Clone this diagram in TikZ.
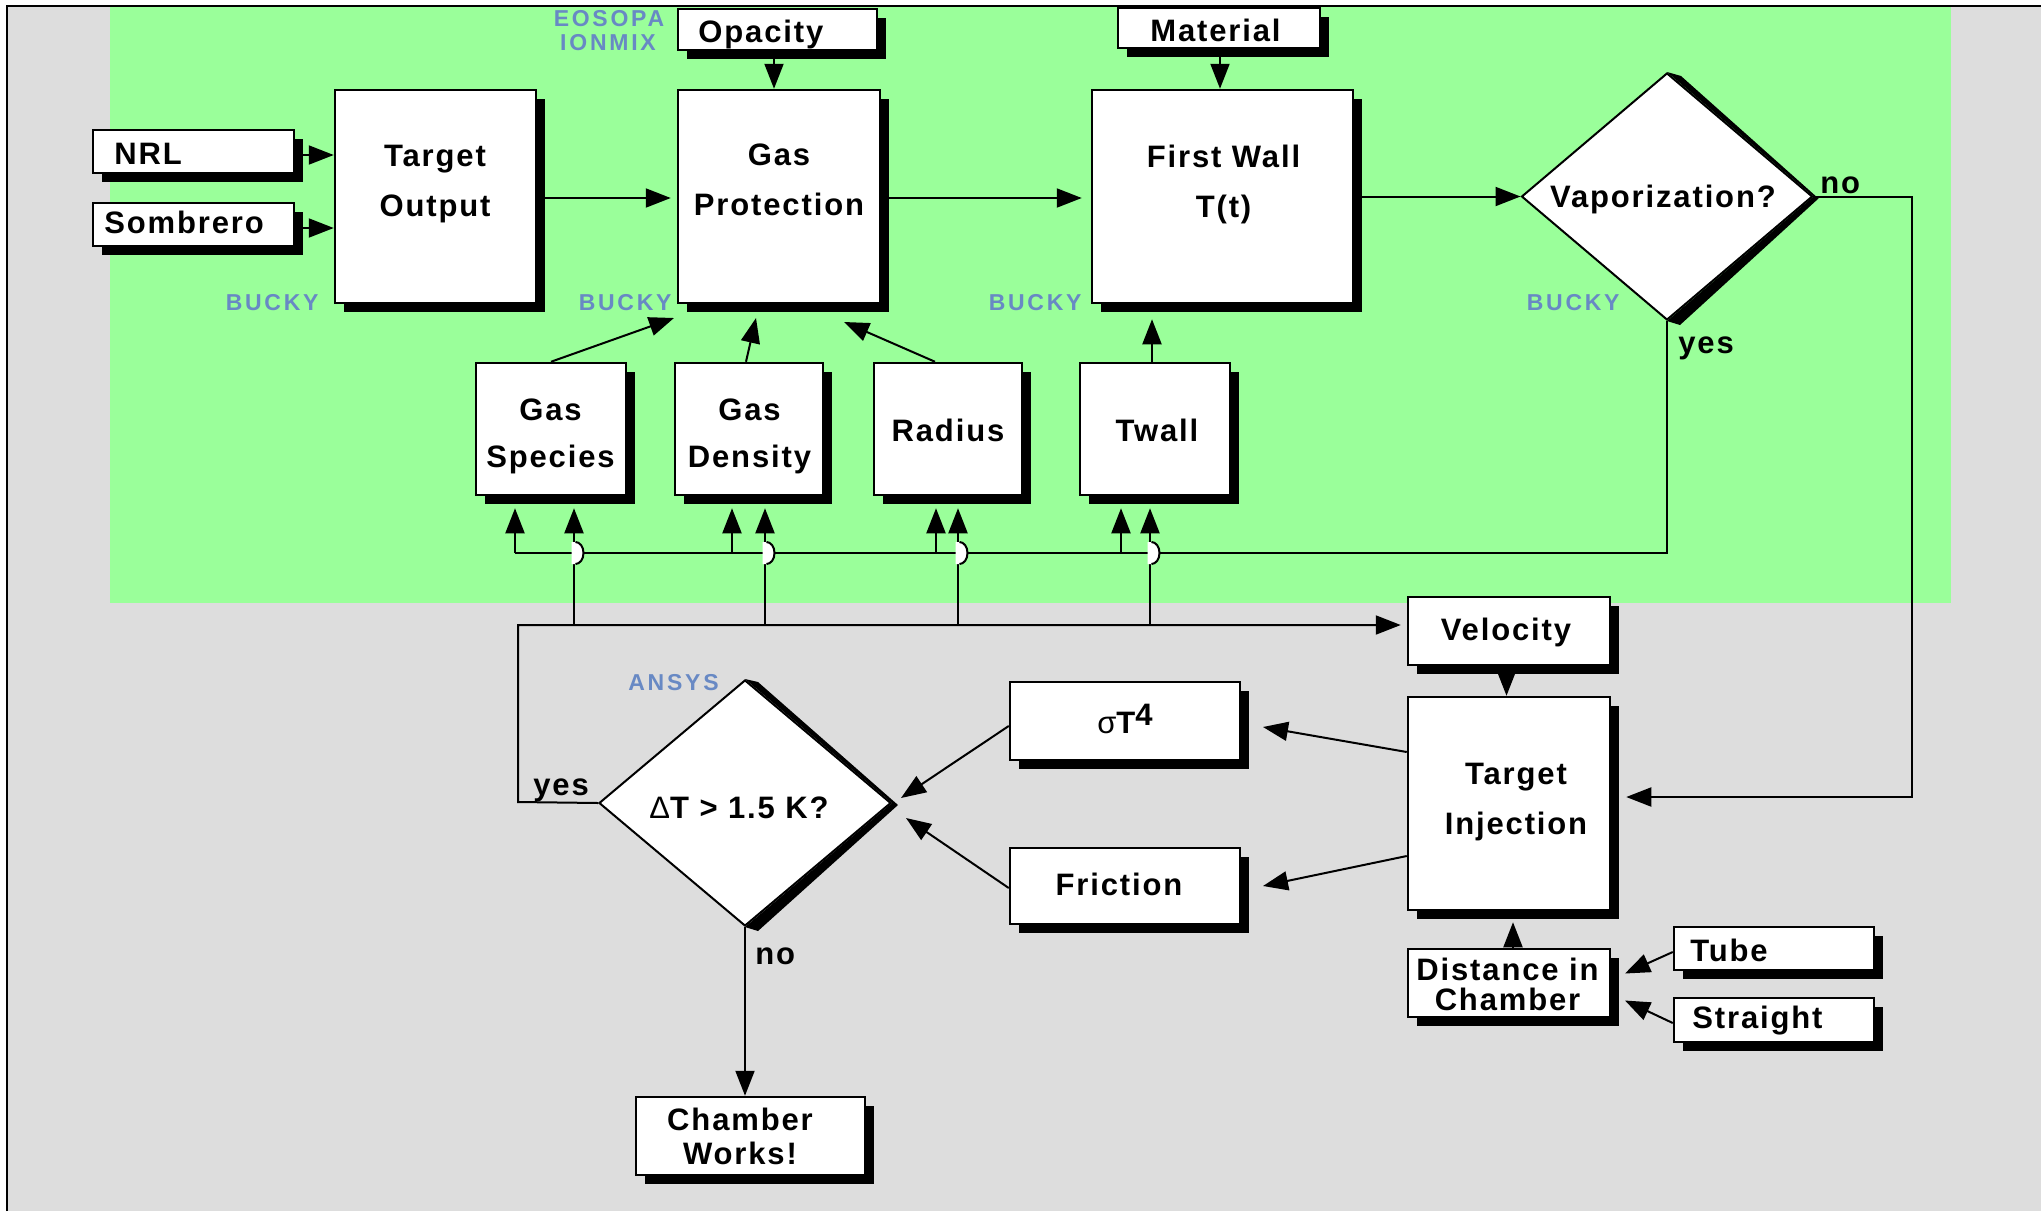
\documentclass[tikz,border=0pt]{standalone}
\usepackage{fontspec}
\setmainfont{Liberation Sans}
\newfontfamily\labfont[LetterSpace=6]{Liberation Sans}
\newfontfamily\toolfont[LetterSpace=12]{Liberation Sans}
\usetikzlibrary{arrows.meta,shapes.geometric,shadows,calc}
\definecolor{bggray}{RGB}{221,221,221}
\definecolor{bggreen}{RGB}{154,255,154}
\definecolor{toolblue}{RGB}{104,137,196}
\tikzset{
  box/.style={draw=black, line width=1.25pt, fill=white, inner sep=0pt,
    drop shadow={shadow xshift=4.5pt, shadow yshift=-4.5pt, fill=black, opacity=1}},
  dia/.style={diamond, draw=black, line width=1pt, fill=white, inner sep=0pt},
  lbl/.style={inner sep=0pt, align=center, font=\labfont\bfseries\fontsize{15.5}{25}\selectfont},
  tool/.style={inner sep=0pt, text=toolblue, font=\toolfont\bfseries\fontsize{11.5}{12.5}\selectfont},
  con/.style={line width=1pt},
  arr/.style={con, -{Triangle[length=12.5pt, width=9.5pt]}},
}
\begin{document}
\begin{tikzpicture}[x=0.5pt,y=-0.5pt]
\useasboundingbox (0,0) rectangle (2041,1211);
\fill[white] (0,0) rectangle (2041,1211);
\fill[bggray] (7,6) rectangle (2041,1211);
\fill[bggreen] (110,7) rectangle (1951,603);
\draw[line width=1pt] (7,1211) -- (7,6) -- (2041,6);

% ---------- boxes ----------
\node[box, minimum width=100.5pt, minimum height=21.5pt] (nrl) at (193.5,151.5) {};
\node[box, minimum width=100.5pt, minimum height=21.5pt] (somb) at (193.5,224.5) {};
\node[box, minimum width=100.5pt, minimum height=106.5pt] (to) at (435.5,196.5) {};
\node[box, minimum width=99.5pt, minimum height=20.5pt] (opac) at (777.5,29.5) {};
\node[box, minimum width=101pt, minimum height=106.5pt] (gp) at (779,196.5) {};
\node[box, minimum width=101pt, minimum height=20pt] (mat) at (1219,28) {};
\node[box, minimum width=130.5pt, minimum height=106.5pt] (fw) at (1222.5,196.5) {};
\node[box, minimum width=75pt, minimum height=66pt] (gs) at (551,429) {};
\node[box, minimum width=74pt, minimum height=66pt] (gd) at (749,429) {};
\node[box, minimum width=74pt, minimum height=66pt] (rad) at (948,429) {};
\node[box, minimum width=75pt, minimum height=66pt] (tw) at (1155,429) {};
\node[box, minimum width=101pt, minimum height=34pt] (vel) at (1509,631) {};
\node[box, minimum width=101pt, minimum height=106.5pt] (ti) at (1509,803.5) {};
\node[box, minimum width=101pt, minimum height=34pt] (dic) at (1509,983) {};
\node[box, minimum width=100pt, minimum height=21.5pt] (tube) at (1774,948.5) {};
\node[box, minimum width=100pt, minimum height=22pt] (str) at (1774,1020) {};
\node[box, minimum width=115pt, minimum height=39pt] (sig) at (1125,721) {};
\node[box, minimum width=115pt, minimum height=38pt] (fri) at (1125,886) {};
\node[box, minimum width=114.5pt, minimum height=39pt] (cw) at (750.5,1136) {};

% ---------- diamonds ----------
\node[dia, minimum width=145.5pt, minimum height=123.5pt] (vap) at (1667,196.5) {};
\fill ($(vap.north)+(14,4)$) -- ($(vap.east)+(5,2)$) -- ($(vap.south)+(13,4)$) -- (vap.south) -- (vap.east) -- (vap.north) -- cycle;
\node[dia, minimum width=146pt, minimum height=123pt] (dt) at (745,803) {};
\fill ($(dt.north)+(13,3)$) -- ($(dt.east)+(6,2)$) -- ($(dt.south)+(13,4)$) -- (dt.south) -- (dt.east) -- (dt.north) -- cycle;

% ---------- free-end coordinates ----------
\coordinate (gpin1) at (674,318);
\coordinate (gpin2) at (756,318);
\coordinate (gpin3) at (844,322);
\coordinate (sigin) at (1263,727);
\coordinate (friin) at (1263,886);
\coordinate (dtin1) at (901,798);
\coordinate (dtin2) at (906,818);
\coordinate (dicin1) at (1625,973.5);
\coordinate (dicin2) at (1625,1000.5);
\coordinate (busR) at (1667,553);
\coordinate (busL) at (515,553);
\coordinate (lowL) at (518,625);
\coordinate (yesC) at (518,802);

% ---------- connectors (top) ----------
\draw[arr] (nrl.east |- 0,155) -- (to.west |- 0,155);
\draw[arr] (somb.east |- 0,228) -- (to.west |- 0,228);
\draw[arr, shorten >=3pt] (to.east |- 0,198) -- (gp.west |- 0,198);
\draw[arr] (opac.south -| 774,0) -- (gp.north -| 774,0);
\draw[arr, shorten >=4.5pt] (gp.east |- 0,198) -- (fw.west |- 0,198);
\draw[arr] (mat.south -| 1220,0) -- (fw.north -| 1220,0);
\draw[arr] (fw.east |- vap.west) -- (vap.west);
\draw[arr, shorten >=7.5pt] (vap.east) -- ++(98,0) |- (ti.east |- 0,797);

% inputs to gas protection / first wall
\draw[arr] (gs.north) -- (gpin1);
\draw[arr] (gd.north -| 746,0) -- (gpin2);
\draw[arr] (rad.north -| 935,0) -- (gpin3);
\draw[arr, shorten >=7.5pt] (tw.north -| 1152,0) -- (fw.south -| 1152,0);

% upper bus (yes from vaporization)
\draw[con] (vap.south) -- (busR) -- (busL);
\draw[arr, shorten >=6pt] (busL) -- (gs.south -| busL);
\draw[arr, shorten >=6pt] (732,553) -- (gd.south -| 732,0);
\draw[arr, shorten >=6pt] (936,553) -- (rad.south -| 936,0);
\draw[arr, shorten >=6pt] (1121,553) -- (tw.south -| 1121,0);

% lower bus (yes from Delta T)
\draw[arr, shorten >=3pt] (dt.west) -- (yesC) -- (lowL) -- (vel.west |- lowL);
\draw[arr, shorten >=6pt] (574,625) -- (gs.south -| 574,0);
\draw[arr, shorten >=6pt] (765,625) -- (gd.south -| 765,0);
\draw[arr, shorten >=6pt] (958,625) -- (rad.south -| 958,0);
\draw[arr, shorten >=6pt] (1150,625) -- (tw.south -| 1150,0);

% line hops
\foreach \x in {574,765,958,1150}{
  \fill[white] ({\x-2.5},542) -- ({\x+1.5},542) arc[start angle=90, end angle=-90, x radius=4pt, y radius=5.5pt] -- ({\x-2.5},564) -- cycle;
  \draw[con] ({\x+1.5},542) arc[start angle=90, end angle=-90, x radius=4pt, y radius=5.5pt];
}

% lower part
\draw[arr] (vel.south -| 1506.5,0) -- (ti.north -| 1506.5,0);
\draw[arr] (ti.west |- 0,752) -- (sigin);
\draw[arr] (ti.west |- 0,856) -- (friin);
\draw[arr] (sig.west |- 0,726) -- (dtin1);
\draw[arr] (fri.west |- 0,888) -- (dtin2);
\draw[arr] (dt.south) -- (cw.north -| dt.south);
\draw[arr, shorten >=5.5pt] (dic.north -| 1513,0) -- (ti.south -| 1513,0);
\draw[arr] (tube.west |- 0,952) -- (dicin1);
\draw[arr] (str.west |- 0,1023) -- (dicin2);

% ---------- texts ----------
\node[lbl, anchor=base west] (nrl-t) at (114,164) {NRL};
\node[lbl, anchor=base west] (somb-t) at (104,233) {Sombrero};
\node[lbl] (to-t) at (435,184.5) {Target\\Output};
\node[lbl, anchor=base west] (opac-t) at (698,42) {Opacity};
\node[lbl] (gp-t) at (779,180) {Gas\\Protection};
\node[lbl, anchor=base west] (mat-t) at (1150,41) {Material};
\node[lbl] (fw-t) at (1223.5,184) {First Wall\\T(t)};
\node[lbl, font=\labfont\bfseries\fontsize{15.5}{23.5}\selectfont] (gs-t) at (550.5,436.5) {Gas\\Species};
\node[lbl, font=\labfont\bfseries\fontsize{15.5}{23.5}\selectfont] (gd-t) at (749.5,436.5) {Gas\\Density};
\node[lbl, anchor=base] (rad-t) at (948,441) {Radius};
\node[lbl, anchor=base] (tw-t) at (1157,441) {Twall};
\node[lbl, anchor=base] (vap-t) at (1663,207) {Vaporization?};
\node[lbl, anchor=base] (dt-t) at (739,818) {{\mdseries Δ}T > 1.5 K?};
\node[lbl, anchor=base] (sig-t) at (1125,733) {{\mdseries σ}T\raisebox{4pt}{4}};
\node[lbl, anchor=base] (fri-t) at (1119,895) {Friction};
\node[lbl, font=\labfont\bfseries\fontsize{15.5}{17}\selectfont] (cw-t) at (740,1136) {Chamber\\Works!};
\node[lbl, anchor=base] (vel-t) at (1506,640) {Velocity};
\node[lbl] (ti-t) at (1516,802) {Target\\Injection};
\node[lbl, font=\labfont\bfseries\fontsize{15.5}{15}\selectfont] (dic-t) at (1507.5,984) {Distance in\\Chamber};
\node[lbl, anchor=base west] (tube-t) at (1690,961) {Tube};
\node[lbl, anchor=base west] (str-t) at (1692,1028) {Straight};

\node[lbl, anchor=base west] (no1) at (1820,193) {no};
\node[lbl, anchor=base west] (yes1) at (1678,353) {yes};
\node[lbl, anchor=base west] (yes2) at (533,795) {yes};
\node[lbl, anchor=base west] (no2) at (755,964) {no};

\node[tool, anchor=base] (eos) at (609,26) {EOSOPA};
\node[tool, anchor=base] (ion) at (608,50) {IONMIX};
\node[tool, anchor=base east] (bk1) at (319,310) {BUCKY};
\node[tool, anchor=base east] (bk2) at (672,310) {BUCKY};
\node[tool, anchor=base east] (bk3) at (1082,310) {BUCKY};
\node[tool, anchor=base east] (bk4) at (1620,310) {BUCKY};
\node[tool, anchor=base west] (ansys) at (628,690) {ANSYS};
\end{tikzpicture}
\end{document}
